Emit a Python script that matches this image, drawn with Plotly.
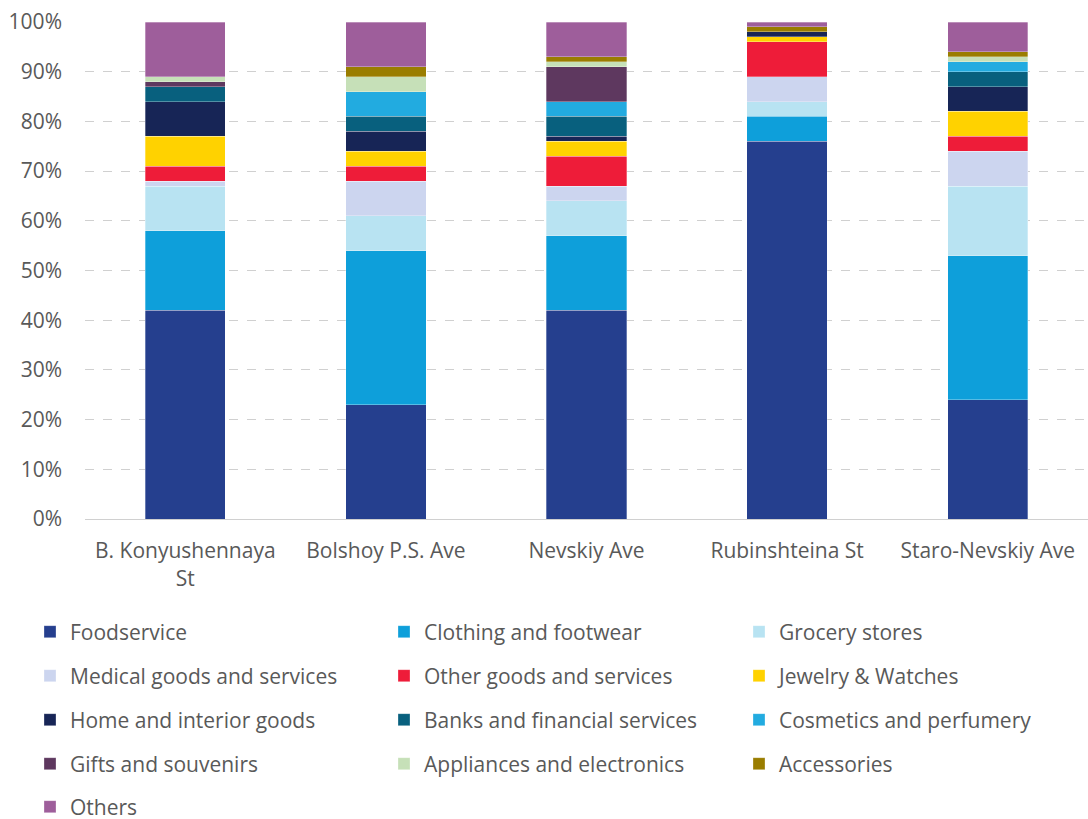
import plotly.graph_objects as go

categories = ["B. Konyushennaya St", "Bolshoy P.S. Ave", "Nevskiy Ave", "Rubinshteina St", "Staro-Nevskiy Ave"]
tick_labels = ["B. Konyushennaya<br>St", "Bolshoy P.S. Ave", "Nevskiy Ave", "Rubinshteina St", "Staro-Nevskiy Ave"]

foodservice = [42, 23, 42, 76, 24]
clothing = [16, 31, 15, 5, 29]
grocery = [9, 7, 7, 3, 14]
medical = [1, 7, 3, 5, 7]
other_goods = [3, 3, 6, 7, 3]
jewelry = [6, 3, 3, 1, 5]
home = [7, 4, 1, 1, 5]
banks = [3, 3, 4, 0, 3]
cosmetics = [0, 5, 3, 0, 2]
gifts = [1, 0, 7, 0, 0]
appliances = [1, 3, 1, 0, 1]
accessories = [0, 2, 1, 1, 1]
others = [11, 9, 7, 1, 6]

series = [
    ("Foodservice", foodservice, "#253F8E"),
    ("Clothing and footwear", clothing, "#0E9FDA"),
    ("Grocery stores", grocery, "#B8E3F2"),
    ("Medical goods and services", medical, "#CCD5EF"),
    ("Other goods and services", other_goods, "#EE1C39"),
    ("Jewelry & Watches", jewelry, "#FFD200"),
    ("Home and interior goods", home, "#172556"),
    ("Banks and financial services", banks, "#08607E"),
    ("Cosmetics and perfumery", cosmetics, "#22ABE0"),
    ("Gifts and souvenirs", gifts, "#5E385F"),
    ("Appliances and electronics", appliances, "#C6E0B8"),
    ("Accessories", accessories, "#9A7D00"),
    ("Others", others, "#9E5E9B"),
]

font_family = "Open Sans"
text_color = "#595959"
fsize = 21

# legend grid: 3 columns, 44 px rows
col_x = [30, 384, 739]
row_y = [632, 676, 720, 764, 807]

fig = go.Figure()
layout_legends = {}
for i, (name, vals, color) in enumerate(series):
    ln = "legend" if i == 0 else f"legend{i + 1}"
    fig.add_trace(go.Bar(
        x=categories, y=vals, name=name,
        marker=dict(color=color, line=dict(color="rgba(255,255,255,0.6)", width=0.5)),
        legend=ln, showlegend=True,
    ))
    layout_legends[ln] = dict(
        xref="container", yref="container",
        x=col_x[i % 3] / 1088,
        xanchor="left",
        y=1 - row_y[i // 3] / 819,
        yanchor="middle",
        font=dict(family=font_family, size=fsize, color=text_color),
        bgcolor="rgba(0,0,0,0)",
        borderwidth=0,
        visible=True,
    )

fig.update_layout(
    showlegend=True,
    barmode="stack",
    bargap=0.6,
    width=1088,
    height=819,
    margin=dict(l=85, r=0, t=22, b=300, autoexpand=False),
    plot_bgcolor="white",
    paper_bgcolor="white",
    font=dict(family=font_family, size=fsize, color=text_color),
    **layout_legends,
)

fig.update_yaxes(
    range=[0, 100],
    tickvals=[0, 10, 20, 30, 40, 50, 60, 70, 80, 90, 100],
    ticktext=["0%", "10%", "20%", "30%", "40%", "50%", "60%", "70%", "80%", "90%", "100%"],
    showgrid=True,
    gridcolor="#D0D0D0",
    gridwidth=1.3,
    griddash="dash",
    zeroline=False,
    showline=False,
    ticklabelstandoff=22,
    tickfont=dict(family=font_family, size=fsize, color=text_color),
)
fig.update_xaxes(
    tickvals=categories,
    ticktext=tick_labels,
    showline=True,
    linecolor="#D0D0D0",
    linewidth=1.3,
    ticks="",
    ticklabelstandoff=13,
    tickfont=dict(family=font_family, size=fsize, color=text_color),
)

fig.write_html("out.html")
